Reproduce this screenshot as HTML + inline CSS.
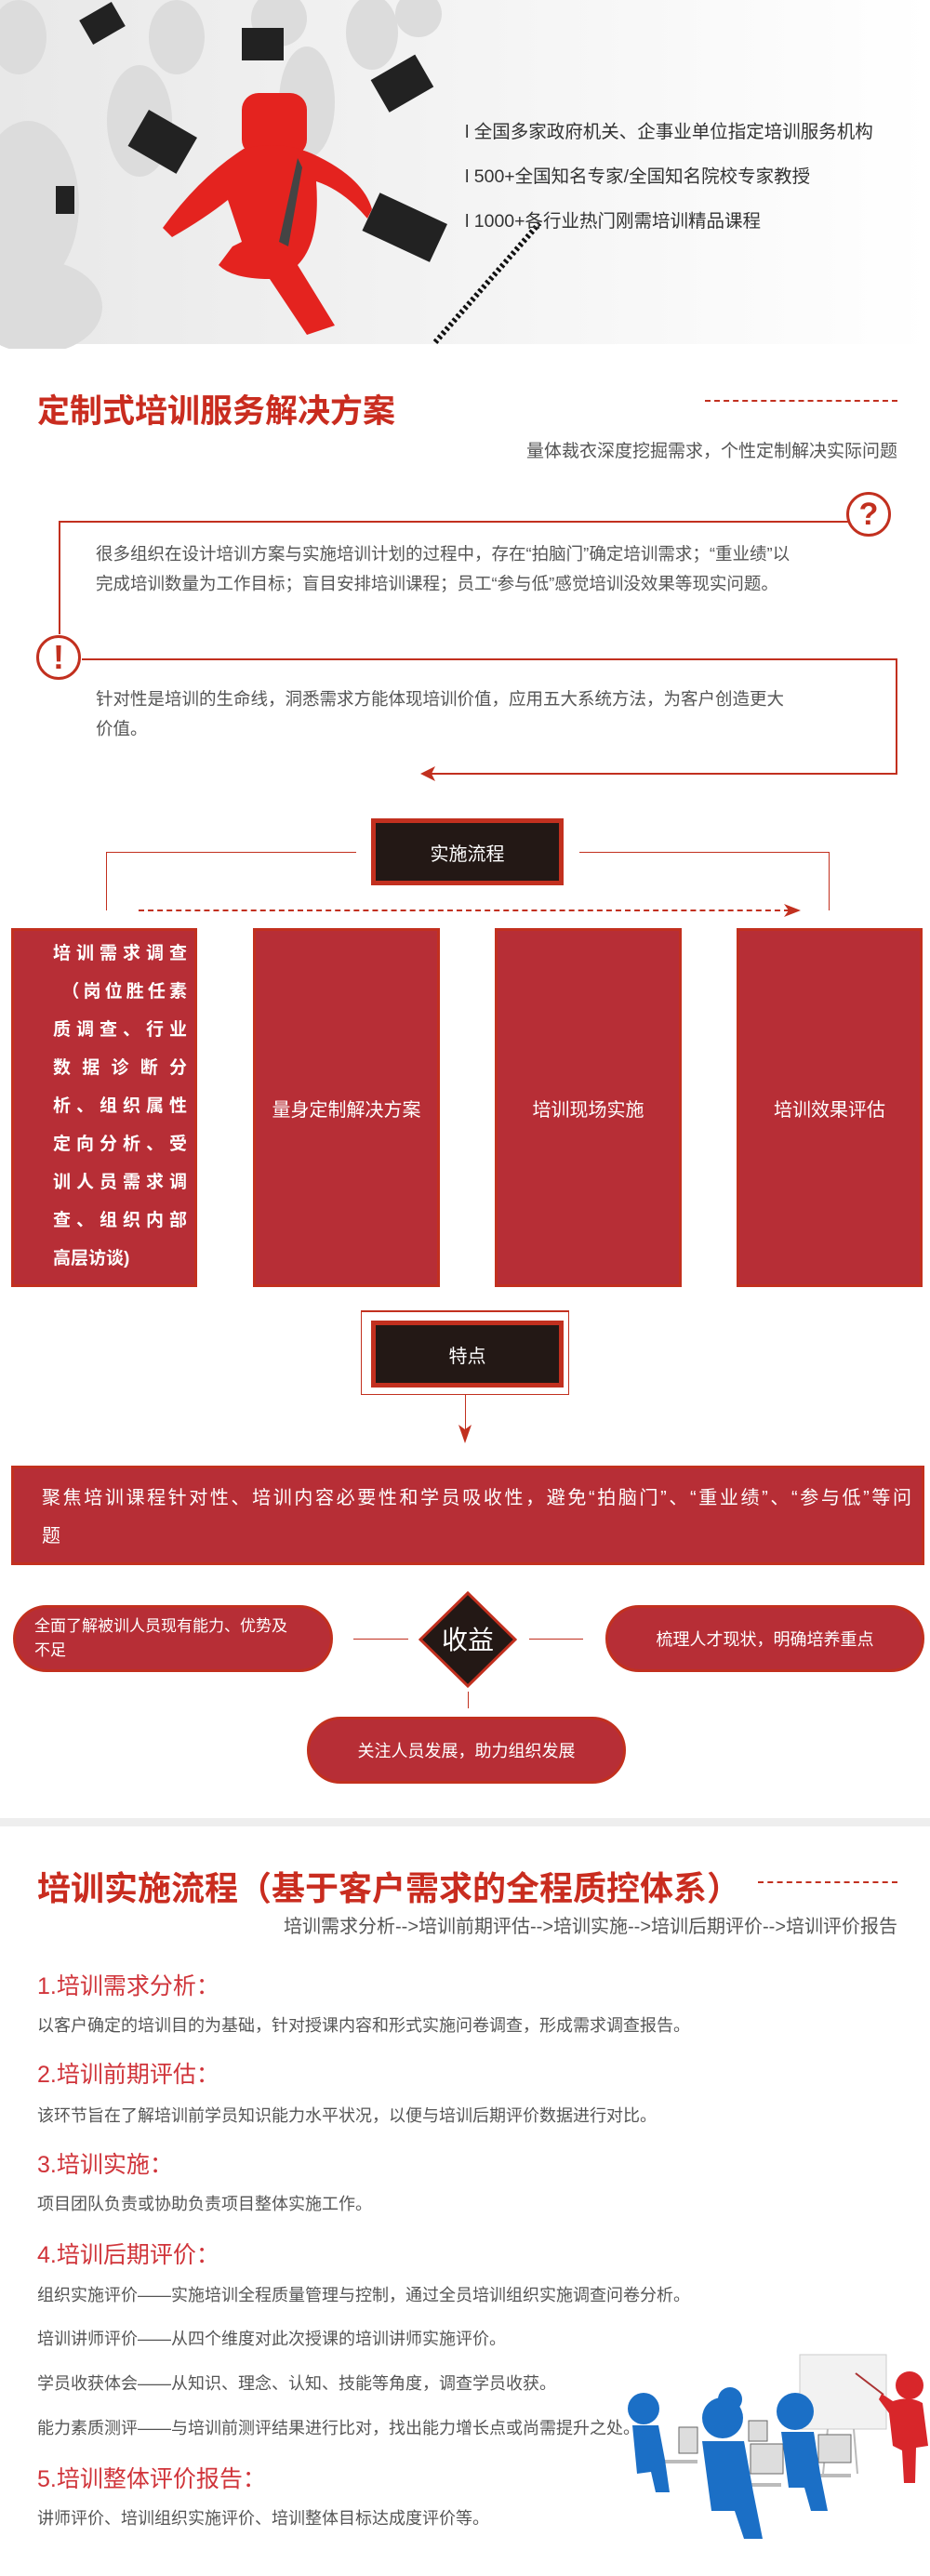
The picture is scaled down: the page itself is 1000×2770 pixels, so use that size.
<!DOCTYPE html>
<html><head><meta charset="utf-8"><style>
*{margin:0;padding:0;box-sizing:border-box}
body{width:1000px;height:2770px;position:relative;background:#fff;font-family:"Liberation Sans","Noto Sans CJK SC",sans-serif;overflow:hidden}
.a{position:absolute;white-space:nowrap}
.red{color:#c9361f}
.box{position:absolute;background:#b72e36;border:3px solid #c2301f;color:#fff;font-size:20px;display:flex;align-items:center;justify-content:center}
.dark{position:absolute;background:#231815;border:5px solid #c2301f;color:#fff;font-size:20px;display:flex;align-items:center;justify-content:center}
.pill{position:absolute;background:#b72e36;border:3px solid #c2301f;color:#fff;font-size:18px;border-radius:36px;display:flex;align-items:center}
.ln{position:absolute;background:#c2301f}
.body{position:absolute;left:40px;font-size:18px;color:#555;white-space:nowrap}
.h{position:absolute;left:40px;font-size:25px;color:#d0343a;white-space:nowrap}
.jl{display:block;text-align:justify;text-align-last:justify;width:144px;height:41px;line-height:41px}
</style></head><body>

<svg class="a" style="left:0;top:0" width="1000" height="375" viewBox="0 0 1000 375">
<defs><linearGradient id="g" x1="0" y1="0" x2="1" y2="0"><stop offset="0" stop-color="#e8e8e8"/><stop offset="0.6" stop-color="#f6f6f6"/><stop offset="1" stop-color="#fff"/></linearGradient></defs>
<rect width="1000" height="370" fill="url(#g)"/>
<g fill="#dcdcdc">
<ellipse cx="30" cy="220" rx="55" ry="90"/><ellipse cx="40" cy="330" rx="70" ry="50"/>
<ellipse cx="150" cy="130" rx="35" ry="60"/><ellipse cx="190" cy="40" rx="30" ry="40"/>
<ellipse cx="330" cy="110" rx="30" ry="60"/><ellipse cx="300" cy="20" rx="30" ry="30"/>
<ellipse cx="400" cy="35" rx="28" ry="40"/><ellipse cx="450" cy="15" rx="25" ry="25"/>
<ellipse cx="20" cy="40" rx="30" ry="40"/>
</g>
<g fill="#222">
<rect x="145" y="130" width="60" height="45" transform="rotate(30 175 152)"/>
<rect x="90" y="10" width="40" height="30" transform="rotate(-30 110 25)"/>
<rect x="260" y="30" width="45" height="35"/>
<rect x="405" y="70" width="55" height="40" transform="rotate(-30 432 90)"/>
<rect x="60" y="200" width="20" height="30"/>
<rect x="395" y="222" width="80" height="45" transform="rotate(25 435 245)"/>
</g>
<g fill="#e4231f">
<rect x="260" y="100" width="70" height="68" rx="18"/>
<path d="M262 160 Q300 150 335 165 Q390 190 400 225 L395 235 Q370 205 340 195 Q345 260 320 285 L360 350 L330 360 L290 300 Q250 300 235 285 L250 265 L260 260 Q250 230 245 215 Q220 235 185 255 L175 245 Q215 190 262 160Z"/>
</g>
<path d="M320 170 L300 260 L310 265 L325 180Z" fill="#444"/>
<path d="M468 368 L580 240" stroke="#111" stroke-width="6" stroke-dasharray="3 3"/>
</svg>
<div class="a" style="left:500px;top:125px;font-size:19.5px;color:#333">l 全国多家政府机关、企事业单位指定培训服务机构</div>
<div class="a" style="left:500px;top:173px;font-size:19.5px;color:#333">l 500+全国知名专家/全国知名院校专家教授</div>
<div class="a" style="left:500px;top:221px;font-size:19.5px;color:#333">l 1000+各行业热门刚需培训精品课程</div>

<div class="a red" style="left:40px;top:414px;font-size:35px;font-weight:bold;color:#c92c1f">定制式培训服务解决方案</div>
<div class="a" style="left:758px;top:430px;width:207px;border-top:2px dashed #c2301f"></div>
<div class="a" style="right:35px;top:470px;font-size:19px;color:#555">量体裁衣深度挖掘需求，个性定制解决实际问题</div>

<div class="ln" style="left:63px;top:560px;width:850px;height:2px"></div>
<div class="ln" style="left:63px;top:560px;width:2px;height:122px"></div>
<div class="a" style="left:910px;top:529px;width:48px;height:48px;border:3px solid #c2301f;border-radius:50%;background:#fff;color:#c2301f;font-size:34px;font-weight:bold;text-align:center;line-height:42px">?</div>
<div class="a" style="left:103px;top:580px;font-size:18.5px;color:#555;line-height:32px">很多组织在设计培训方案与实施培训计划的过程中，存在“拍脑门”确定培训需求；“重业绩”以<br>完成培训数量为工作目标；盲目安排培训课程；员工“参与低”感觉培训没效果等现实问题。</div>

<div class="a" style="left:39px;top:683px;width:48px;height:48px;border:3px solid #c2301f;border-radius:50%;background:#fff;color:#c2301f;font-size:36px;font-weight:bold;text-align:center;line-height:42px">!</div>
<div class="ln" style="left:88px;top:708px;width:877px;height:2px"></div>
<div class="ln" style="left:963px;top:708px;width:2px;height:125px"></div>
<div class="ln" style="left:462px;top:831px;width:503px;height:2px"></div>
<svg class="a" style="left:452px;top:824px" width="16" height="16"><path d="M0 8 L16 0 L12 8 L16 16Z" fill="#c2301f"/></svg>
<div class="a" style="left:103px;top:736px;font-size:18.5px;color:#555;line-height:32px">针对性是培训的生命线，洞悉需求方能体现培训价值，应用五大系统方法，为客户创造更大<br>价值。</div>

<div class="dark" style="left:399px;top:880px;width:207px;height:72px">实施流程</div>
<div class="ln" style="left:114px;top:916px;width:269px;height:1px"></div>
<div class="ln" style="left:114px;top:916px;width:1px;height:63px"></div>
<div class="ln" style="left:623px;top:916px;width:269px;height:1px"></div>
<div class="ln" style="left:891px;top:916px;width:1px;height:63px"></div>
<div class="a" style="left:149px;top:978px;width:700px;border-top:2px dashed #c2301f"></div>
<svg class="a" style="left:843px;top:972px" width="18" height="14"><path d="M18 7 L0 0 L5 7 L0 14Z" fill="#c2301f"/></svg>

<div class="box" style="left:12px;top:998px;width:200px;height:386px;display:block;padding:4px 0 0 42px;font-size:19px;font-weight:bold">
<span class="jl">培训需求调查</span><span class="jl">&nbsp;（岗位胜任素</span><span class="jl">质调查、行业</span><span class="jl">数据诊断分</span><span class="jl">析、组织属性</span><span class="jl">定向分析、受</span><span class="jl">训人员需求调</span><span class="jl">查、组织内部</span><span style="display:block;height:41px;line-height:41px">高层访谈)</span>
</div>
<div class="box" style="left:272px;top:998px;width:201px;height:386px">量身定制解决方案</div>
<div class="box" style="left:532px;top:998px;width:201px;height:386px">培训现场实施</div>
<div class="box" style="left:792px;top:998px;width:200px;height:386px">培训效果评估</div>

<div class="a" style="left:388px;top:1409px;width:224px;height:91px;border:1px solid #c2301f;border-top:2px solid #c2301f"></div>
<div class="dark" style="left:399px;top:1420px;width:207px;height:72px">特点</div>
<div class="ln" style="left:500px;top:1500px;width:1px;height:40px"></div>
<svg class="a" style="left:493px;top:1532px" width="14" height="20"><path d="M7 20 L0 0 L7 5 L14 0Z" fill="#c2301f"/></svg>

<div class="box" style="left:12px;top:1576px;width:982px;height:107px;display:block;padding:12px 0 0 30px;font-size:20px;line-height:41px">
<span style="display:block;width:935px;text-align:justify;text-align-last:justify">聚焦培训课程针对性、培训内容必要性和学员吸收性，避免“拍脑门”、“重业绩”、“参与低”等问</span><span style="display:block">题</span></div>

<div class="pill" style="left:14px;top:1726px;width:344px;height:72px;padding-left:20px;font-size:17px;line-height:26px">全面了解被训人员现有能力、优势及<br>不足</div>
<div class="ln" style="left:380px;top:1762px;width:59px;height:1px"></div>
<div class="ln" style="left:569px;top:1762px;width:58px;height:1px"></div>
<svg class="a" style="left:450px;top:1711px" width="106" height="104"><path d="M53 2 L104 52 L53 102 L2 52Z" fill="#231815" stroke="#c2301f" stroke-width="3"/><text x="53" y="62" text-anchor="middle" fill="#fff" font-size="28" font-family="Liberation Sans, Noto Sans CJK SC, sans-serif">收益</text></svg>
<div class="pill" style="left:651px;top:1726px;width:343px;height:72px;justify-content:center">梳理人才现状，明确培养重点</div>
<div class="ln" style="left:503px;top:1819px;width:1px;height:18px"></div>
<div class="pill" style="left:330px;top:1846px;width:343px;height:72px;justify-content:center">关注人员发展，助力组织发展</div>

<div class="a" style="left:0;top:1955px;width:1000px;height:9px;background:#eee"></div>
<div class="a" style="left:40px;top:2002px;font-size:36px;color:#c92c1f;font-weight:bold">培训实施流程（基于客户需求的全程质控体系）</div>
<div class="a" style="left:815px;top:2023px;width:150px;border-top:2px dashed #c2301f"></div>
<div class="a" style="right:35px;top:2055px;font-size:20px;color:#555">培训需求分析-->培训前期评估-->培训实施-->培训后期评价-->培训评价报告</div>

<div class="h" style="top:2116px">1.培训需求分析：</div>
<div class="body" style="top:2164px">以客户确定的培训目的为基础，针对授课内容和形式实施问卷调查，形成需求调查报告。</div>
<div class="h" style="top:2211px">2.培训前期评估：</div>
<div class="body" style="top:2261px">该环节旨在了解培训前学员知识能力水平状况，以便与培训后期评价数据进行对比。</div>
<div class="h" style="top:2308px">3.培训实施：</div>
<div class="body" style="top:2356px">项目团队负责或协助负责项目整体实施工作。</div>
<div class="h" style="top:2405px">4.培训后期评价：</div>
<div class="body" style="top:2454px">组织实施评价——实施培训全程质量管理与控制，通过全员培训组织实施调查问卷分析。</div>
<div class="body" style="top:2501px">培训讲师评价——从四个维度对此次授课的培训讲师实施评价。</div>
<div class="body" style="top:2549px">学员收获体会——从知识、理念、认知、技能等角度，调查学员收获。</div>

<svg class="a" style="left:660px;top:2500px" width="340" height="270">
<rect x="200" y="32" width="93" height="80" fill="#f2f2f2" stroke="#ccc"/>
<line x1="230" y1="112" x2="225" y2="160" stroke="#bbb" stroke-width="2"/><line x1="258" y1="112" x2="262" y2="160" stroke="#bbb" stroke-width="2"/>
<line x1="260" y1="52" x2="290" y2="75" stroke="#a33" stroke-width="2"/>
<g fill="#d8262a"><circle cx="318" cy="65" r="15"/><path d="M300 82 Q318 76 332 84 L338 130 L325 132 L324 170 L312 170 L310 135 L300 130 L296 95 L285 80 L288 74Z"/></g>
<g fill="#bbb"><rect x="50" y="145" width="40" height="4"/><rect x="140" y="170" width="40" height="4"/><rect x="215" y="160" width="40" height="4"/></g>
<g fill="#ddd" stroke="#666"><rect x="70" y="110" width="20" height="28"/><rect x="145" y="103" width="20" height="22"/><rect x="147" y="128" width="35" height="32"/><rect x="220" y="118" width="35" height="30"/></g>
<g fill="#1b6fc6">
<circle cx="32" cy="90" r="17"/><path d="M20 108 L48 108 L55 145 L60 180 L45 180 L40 158 L25 160Z"/>
<circle cx="125" cy="80" r="13"/>
<circle cx="117" cy="100" r="22"/><path d="M95 125 L140 125 L150 180 L160 230 L140 230 L130 200 L105 200Z"/>
<circle cx="195" cy="93" r="20"/><path d="M180 115 L215 115 L222 160 L230 200 L212 200 L205 175 L188 175Z"/>
</g>
</svg>
<div class="body" style="top:2597px">能力素质测评——与培训前测评结果进行比对，找出能力增长点或尚需提升之处。</div>
<div class="h" style="top:2646px">5.培训整体评价报告：</div>
<div class="body" style="top:2694px">讲师评价、培训组织实施评价、培训整体目标达成度评价等。</div>
</body></html>
